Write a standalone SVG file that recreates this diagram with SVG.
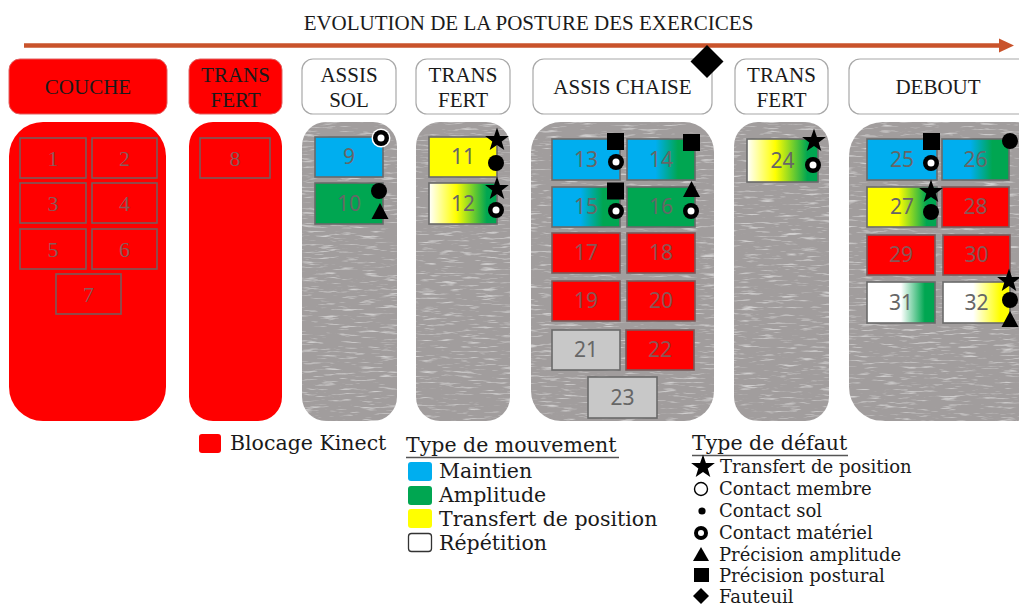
<svg xmlns="http://www.w3.org/2000/svg" width="1019" height="607" viewBox="0 0 1019 607">
<style>
.hdr{font-family:"Liberation Serif",serif;font-size:21px;fill:#1a1a1a;text-anchor:middle}
.hbox{fill:#fff;stroke:#a8a8a8;stroke-width:1.2}
.hred{fill:#ff0000;stroke:#e06060;stroke-width:1}
.col{fill:#a19d9d}
.red{fill:#ff0000}
.cell{stroke:#6a6a6a;stroke-width:1.6}
.rcell{fill:#ff0000;stroke:#7a5a5a;stroke-width:1.6}
.num{font-family:"Noto Sans",sans-serif;font-size:21px;fill:#666;text-anchor:middle}
.rnum{font-family:"Noto Sans",sans-serif;font-size:21px;fill:#8a5656;text-anchor:middle}
.snum{font-family:"Liberation Serif",serif;font-size:22px;fill:#8a5a5a;text-anchor:middle}
.leg{font-family:"DejaVu Serif",serif;font-size:20.5px;fill:#1a1a1a}
.legs{font-family:"DejaVu Serif",serif;font-size:18px;fill:#1a1a1a}
.ul{stroke:#555;stroke-width:1.5}
</style>
<defs>
<filter id="tex" x="0" y="0" width="1" height="1">
<feTurbulence type="fractalNoise" baseFrequency="0.05 0.45" numOctaves="3" seed="7" result="n"/>
<feColorMatrix in="n" type="matrix" values="0 0 0 0 1 0 0 0 0 1 0 0 0 0 1 4 0 0 0 -2.25" result="w"/>
<feComposite in="w" in2="SourceGraphic" operator="in" result="wc"/>
<feComponentTransfer in="wc" result="wc2"><feFuncA type="linear" slope="0.42"/></feComponentTransfer>
<feMerge><feMergeNode in="SourceGraphic"/><feMergeNode in="wc2"/></feMerge>
</filter>
<linearGradient id="gWYG" x1="0" y1="0" x2="1" y2="0"><stop offset="0" stop-color="#fff"/><stop offset="0.4" stop-color="#ffff00"/><stop offset="0.85" stop-color="#00a651"/><stop offset="1" stop-color="#00a651"/></linearGradient>
<linearGradient id="gBG" x1="0" y1="0" x2="1" y2="0"><stop offset="0.42" stop-color="#00aeef"/><stop offset="0.75" stop-color="#00a651"/></linearGradient>
<linearGradient id="gYG" x1="0" y1="0" x2="1" y2="0"><stop offset="0.45" stop-color="#ffff00"/><stop offset="0.85" stop-color="#00a651"/></linearGradient>
<linearGradient id="gWG" x1="0" y1="0" x2="1" y2="0"><stop offset="0.5" stop-color="#fff"/><stop offset="0.85" stop-color="#00a651"/></linearGradient>
<linearGradient id="gWY" x1="0" y1="0" x2="1" y2="0"><stop offset="0.45" stop-color="#fff"/><stop offset="0.85" stop-color="#ffff00"/></linearGradient>
<path id="star" d="M0,-12.5 L2.9,-4 L11.9,-3.9 L4.7,1.5 L7.3,10.1 L0,5 L-7.3,10.1 L-4.7,1.5 L-11.9,-3.9 L-2.9,-4 Z" fill="#000"/>
<circle id="dot" r="8" fill="#000"/>
<g id="ring"><circle r="8" fill="#000"/><circle r="3.5" fill="#fff"/></g>
<path id="tri" d="M0,-8 L8.5,8 L-8.5,8 Z" fill="#000"/>
<rect id="sq" x="-8.5" y="-8.5" width="17" height="17" fill="#000"/>
</defs>

<text x="528.5" y="30" class="hdr">EVOLUTION DE LA POSTURE DES EXERCICES</text>

<g id="connectors">
<line x1="24" y1="45.5" x2="1001" y2="45.5" stroke="#c9532b" stroke-width="4.5"/>
<path d="M999,38.5 L1014,45.5 L999,52.5 Z" fill="#c9532b"/>
</g>

<g id="h-couche"><rect x="9" y="59" width="158" height="55" rx="11" class="hred"/><text x="88" y="94" class="hdr">COUCHE</text></g>
<g id="h-transfert1"><rect x="189" y="59" width="93" height="55" rx="11" class="hred"/><text x="235.5" y="82" class="hdr">TRANS</text><text x="235.5" y="107" class="hdr">FERT</text></g>
<g id="h-assissol"><rect x="302" y="59" width="94" height="55" rx="11" class="hbox"/><text x="349" y="82" class="hdr">ASSIS</text><text x="349" y="107" class="hdr">SOL</text></g>
<g id="h-transfert2"><rect x="416" y="59" width="94" height="55" rx="11" class="hbox"/><text x="463" y="82" class="hdr">TRANS</text><text x="463" y="107" class="hdr">FERT</text></g>
<g id="h-assischaise"><rect x="533" y="59" width="179" height="55" rx="11" class="hbox"/><text x="622.5" y="94" class="hdr">ASSIS CHAISE</text></g>
<g id="h-transfert3"><rect x="735" y="59" width="93" height="55" rx="11" class="hbox"/><text x="781.5" y="82" class="hdr">TRANS</text><text x="781.5" y="107" class="hdr">FERT</text></g>
<g id="h-debout"><rect x="849" y="59" width="190" height="55" rx="11" class="hbox"/><text x="938" y="94" class="hdr">DEBOUT</text></g>

<g id="fauteuil-marker"><path d="M707,45 L723.5,61.5 L707,78 L690.5,61.5 Z" fill="#000"/></g>

<g id="col-couche">
<rect x="9" y="122" width="157" height="299" rx="34" class="red"/>
<rect x="20" y="138" width="66" height="40" class="rcell"/><text x="53" y="166" class="snum">1</text>
<rect x="92" y="138" width="65" height="40" class="rcell"/><text x="124.5" y="166" class="snum">2</text>
<rect x="20" y="183" width="66" height="40" class="rcell"/><text x="53" y="211" class="snum">3</text>
<rect x="92" y="183" width="65" height="40" class="rcell"/><text x="124.5" y="211" class="snum">4</text>
<rect x="20" y="229" width="66" height="40" class="rcell"/><text x="53" y="257" class="snum">5</text>
<rect x="92" y="229" width="65" height="40" class="rcell"/><text x="124.5" y="257" class="snum">6</text>
<rect x="56" y="274" width="65" height="40" class="rcell"/><text x="88.5" y="302" class="snum">7</text>
</g>

<g id="col-transfert1">
<rect x="189" y="122" width="93" height="299" rx="24" class="red"/>
<rect x="200" y="138" width="70" height="40" class="rcell"/><text x="235" y="166" class="snum">8</text>
</g>

<g id="col-assissol">
<rect x="302" y="122" width="95" height="299" rx="24" class="col" filter="url(#tex)"/>
<rect x="315" y="137" width="68" height="40" fill="#00aeef" class="cell"/><text x="349" y="164" class="num">9</text>
<rect x="315" y="183" width="68" height="41" fill="#00a651" class="cell"/><text x="349" y="211" class="num">10</text>
<circle cx="381" cy="138" r="9.5" fill="#fff"/><use href="#ring" x="381" y="138"/>
<use href="#dot" x="379" y="191"/>
<use href="#tri" x="380" y="211"/>
</g>

<g id="col-transfert2">
<rect x="416" y="122" width="94" height="299" rx="24" class="col" filter="url(#tex)"/>
<rect x="429" y="137" width="68" height="40" fill="#ffff00" class="cell"/><text x="463" y="164" class="num">11</text>
<rect x="429" y="183" width="68" height="41" fill="url(#gWYG)" class="cell"/><text x="463" y="211" class="num">12</text>
<use href="#star" x="497" y="140"/>
<use href="#dot" x="496" y="163"/>
<use href="#star" x="497" y="189"/>
<use href="#ring" x="496" y="210"/>
</g>

<g id="col-assischaise">
<rect x="531" y="122" width="183" height="299" rx="30" class="col" filter="url(#tex)"/>
<rect x="552" y="139" width="68" height="41" fill="#00aeef" class="cell"/><text x="586" y="167" class="num">13</text>
<rect x="627" y="139" width="68" height="41" fill="url(#gBG)" class="cell"/><text x="661" y="167" class="num">14</text>
<rect x="552" y="187" width="68" height="40" fill="url(#gBG)" class="cell"/><text x="586" y="214" class="num">15</text>
<rect x="627" y="187" width="68" height="40" fill="#00a651" class="cell"/><text x="661" y="214" class="num">16</text>
<rect x="552" y="233" width="68" height="40" class="rcell"/><text x="586" y="260" class="rnum">17</text>
<rect x="627" y="233" width="68" height="40" class="rcell"/><text x="661" y="260" class="rnum">18</text>
<rect x="552" y="281" width="68" height="40" class="rcell"/><text x="586" y="308" class="rnum">19</text>
<rect x="627" y="281" width="68" height="40" class="rcell"/><text x="661" y="308" class="rnum">20</text>
<rect x="552" y="330" width="68" height="40" fill="#c8c8c8" class="cell"/><text x="586" y="357" class="num">21</text>
<rect x="626" y="330" width="68" height="40" class="rcell"/><text x="660" y="357" class="rnum">22</text>
<rect x="588" y="377" width="69" height="41" fill="#c8c8c8" class="cell"/><text x="622.5" y="405" class="num">23</text>
<use href="#sq" x="615.5" y="141.5"/>
<use href="#ring" x="616" y="162"/>
<use href="#sq" x="691.5" y="142.5"/>
<use href="#sq" x="615.5" y="191"/>
<use href="#ring" x="616" y="211"/>
<use href="#tri" x="691.5" y="189"/>
<use href="#ring" x="691" y="211"/>
</g>

<g id="col-transfert3">
<rect x="734" y="122" width="95" height="299" rx="24" class="col" filter="url(#tex)"/>
<rect x="747" y="139" width="71" height="43" fill="url(#gWYG)" class="cell"/><text x="782.5" y="168" class="num">24</text>
<use href="#star" x="814" y="141"/>
<use href="#ring" x="813" y="165"/>
</g>

<g id="col-debout">
<rect x="849" y="122" width="200" height="299" rx="34" class="col" filter="url(#tex)"/>
<rect x="867" y="139" width="70" height="41" fill="#00aeef" class="cell"/><text x="902" y="167" class="num">25</text>
<rect x="942" y="139" width="67" height="41" fill="url(#gBG)" class="cell"/><text x="975.5" y="167" class="num">26</text>
<rect x="867" y="187" width="70" height="40" fill="url(#gYG)" class="cell"/><text x="902" y="214" class="num">27</text>
<rect x="942" y="187" width="67" height="40" class="rcell"/><text x="975.5" y="214" class="rnum">28</text>
<rect x="867" y="235" width="68" height="40" class="rcell"/><text x="901" y="262" class="rnum">29</text>
<rect x="943" y="235" width="67" height="40" class="rcell"/><text x="976.5" y="262" class="rnum">30</text>
<rect x="867" y="282" width="68" height="41" fill="url(#gWG)" class="cell"/><text x="901" y="310" class="num">31</text>
<rect x="943" y="282" width="67" height="41" fill="url(#gWY)" class="cell"/><text x="976.5" y="310" class="num">32</text>
<use href="#sq" x="931.5" y="141.5"/>
<use href="#ring" x="931" y="163"/>
<use href="#dot" x="1010" y="141"/>
<use href="#star" x="931" y="192"/>
<use href="#dot" x="931" y="212"/>
<use href="#star" x="1009" y="281"/>
<use href="#dot" x="1010" y="300"/>
<use href="#tri" x="1010" y="319"/>
</g>

<g id="legend-blocage">
<rect x="199" y="434" width="22" height="19" rx="3" fill="#ff0000"/>
<text x="230" y="450" class="leg" font-size="20">Blocage Kinect</text>
</g>

<g id="legend-mouvement">
<text x="406" y="452" class="leg">Type de mouvement</text>
<line x1="406" y1="457.5" x2="619" y2="457.5" class="ul"/>
<rect x="408" y="462" width="24" height="19" rx="3" fill="#00aeef"/><text x="439" y="478" class="leg">Maintien</text>
<rect x="408" y="486" width="24" height="19" rx="3" fill="#00a651"/><text x="439" y="502" class="leg">Amplitude</text>
<rect x="408" y="509" width="24" height="19" rx="3" fill="#ffff00"/><text x="439" y="526" class="leg">Transfert de position</text>
<rect x="408.5" y="533.5" width="23" height="18" rx="3" fill="#fff" stroke="#333" stroke-width="1.3"/><text x="439" y="550" class="leg">Répétition</text>
</g>

<g id="legend-defaut">
<text x="692" y="450" class="leg">Type de défaut</text>
<line x1="692" y1="455.5" x2="848" y2="455.5" class="ul"/>
<use href="#star" x="703" y="467"/><text x="720" y="472.5" class="legs">Transfert de position</text>
<circle cx="701" cy="489" r="6.5" fill="#fff" stroke="#000" stroke-width="1.4"/><text x="719" y="494.5" class="legs">Contact membre</text>
<circle cx="702" cy="511" r="3.6" fill="#000"/><text x="719" y="516.5" class="legs">Contact sol</text>
<circle cx="701" cy="533" r="7" fill="#000"/><circle cx="701" cy="533" r="3" fill="#fff"/><text x="719" y="538.5" class="legs">Contact matériel</text>
<path d="M701,547 L709,561 L693,561 Z" fill="#000"/><text x="719" y="560.5" class="legs">Précision amplitude</text>
<rect x="694" y="568" width="15" height="14" fill="#000"/><text x="719" y="582" class="legs">Précision postural</text>
<path d="M701,588 L709,596 L701,604 L693,596 Z" fill="#000"/><text x="719" y="603" class="legs">Fauteuil</text>
</g>
</svg>
